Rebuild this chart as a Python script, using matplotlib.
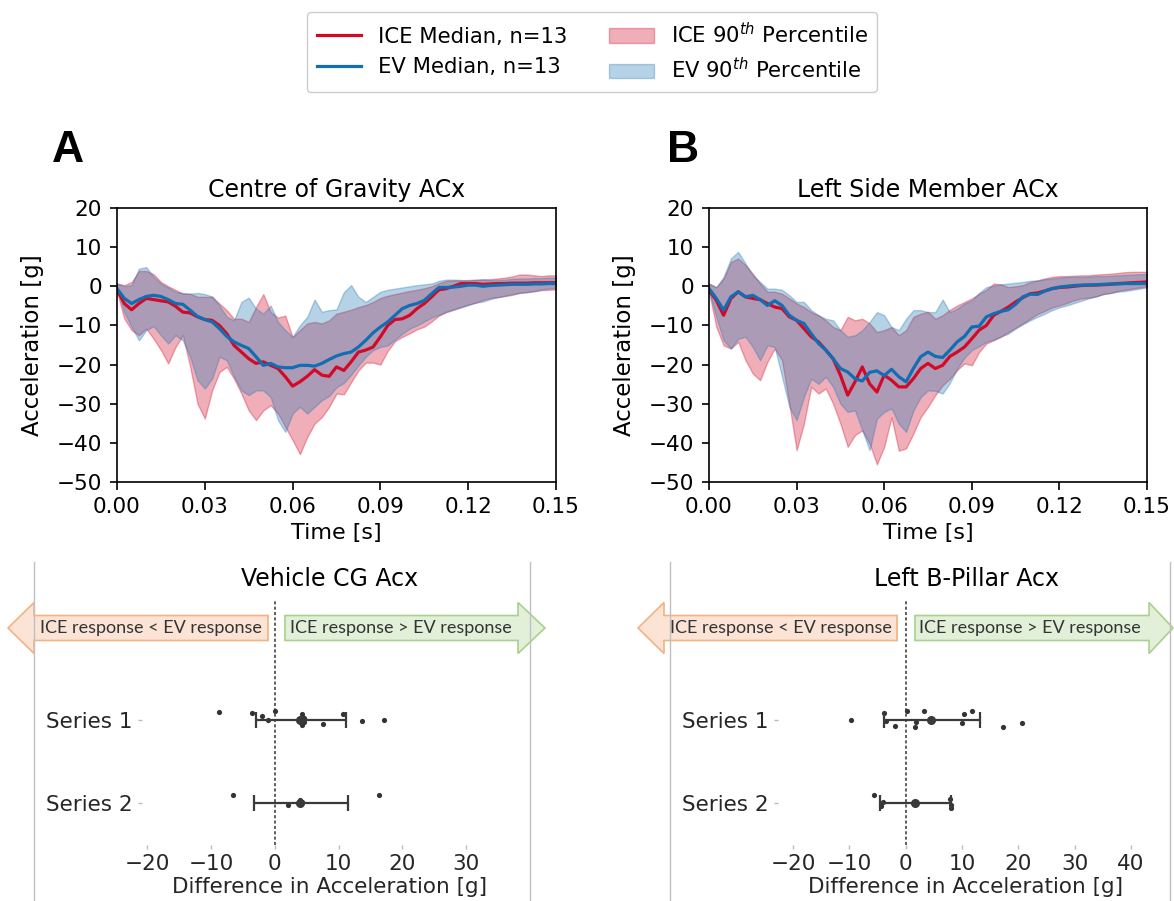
import numpy as np
import matplotlib
matplotlib.use("Agg")
import matplotlib.pyplot as plt
from matplotlib.lines import Line2D
from matplotlib.patches import Patch, Polygon
from matplotlib.ticker import FormatStrFormatter

# --- tamanho da figura em pixels ---
W, H = 1174, 901

# --- DADOS ---
tempo = np.linspace(0, 0.15, 61)

# Centre of Gravity ACx
cg_ice_med = [-0.9, -4.4, -6.0, -4.4, -3.1, -3.4, -3.7, -4.0, -5.1, -6.6, -6.8, -7.8, -8.5, -8.7, -10.0, -12.1,
              -15.1, -16.8, -18.5, -19.7, -19.3, -20.2, -21.0, -23.1, -25.5, -24.4, -23.0, -21.3, -22.7, -23.0, -20.6,
              -21.5, -19.3, -16.8, -16.3, -15.5, -12.9, -10.0, -8.5, -8.3, -7.4, -5.7, -4.4, -2.7, -0.9, -0.6,
              0.0, 0.7, 0.7, 0.7, 0.5, 0.6, 0.7, 0.7, 0.8, 0.8, 0.8, 0.9, 0.9, 0.9, 0.9]
cg_ev_med = [-0.6, -3.1, -4.4, -3.4, -2.6, -2.3, -2.6, -3.4, -4.4, -4.6, -6.1, -7.7, -8.5, -9.1, -10.8, -12.8,
             -14.2, -15.1, -15.9, -18.0, -20.2, -19.7, -20.6, -20.8, -20.8, -20.2, -20.2, -20.4, -19.7, -18.7, -17.8,
             -17.2, -16.8, -15.5, -13.8, -11.9, -10.4, -9.1, -7.4, -5.7, -4.9, -4.4, -3.6, -1.9, -0.3, -0.3,
             -0.2, 0.0, 0.3, 0.3, 0.0, 0.2, 0.3, 0.4, 0.5, 0.5, 0.5, 0.6, 0.6, 0.7, 0.7]
cg_ice_hi = [0.7, 0.3, 1.1, 3.9, 3.9, 3.1, 1.1, 0.0, -0.9, -1.9, -1.9, -2.7, -2.7, -2.7, -4.4, -6.1,
             -8.3, -8.3, -9.1, -5.3, -2.0, -6.6, -8.0, -7.5, -13.0, -11.2, -9.5, -9.1, -9.5, -8.7, -7.0,
             -6.5, -6.0, -5.3, -4.8, -4.0, -3.0, -2.4, -2.0, -1.6, -1.2, -0.9, -0.5, 0.0, 0.8, 1.4,
             1.5, 1.5, 1.6, 1.7, 1.8, 1.8, 2.0, 2.2, 2.5, 3.0, 3.0, 2.8, 2.6, 2.8, 2.8]
cg_ice_lo = [-1.4, -8.3, -11.2, -12.5, -10.8, -13.4, -16.3, -19.7, -15.5, -12.5, -20.6, -30.0, -33.8, -26.6, -21.9, -20.6,
             -23.6, -27.4, -31.7, -34.2, -31.7, -30.4, -32.5, -35.9, -39.3, -42.9, -38.5, -35.1, -33.4, -30.8, -27.4,
             -27.6, -24.5, -21.5, -19.5, -19.5, -20.0, -16.5, -14.0, -12.9, -12.0, -11.0, -10.3, -9.0, -7.5, -6.6,
             -6.0, -5.4, -4.7, -4.2, -3.5, -3.0, -2.8, -2.5, -2.2, -1.7, -1.5, -1.3, -1.0, -0.9, -0.8]
cg_ev_hi = [0.7, 0.0, 0.3, 4.5, 4.9, 2.4, 0.7, -0.3, -1.4, -1.7, -1.9, -1.7, -2.0, -2.6, -4.9, -7.8,
            -8.7, -4.0, -2.9, -5.7, -7.0, -4.9, -9.1, -11.2, -12.9, -10.0, -7.8, -3.4, -6.5, -6.1, -5.9,
            -1.5, 0.3, -2.7, -4.0, -2.7, -1.4, -0.9, -0.6, -0.3, 0.0, 0.3, 0.5, 0.7, 1.4, 1.7,
            1.7, 1.6, 1.5, 1.6, 1.7, 1.6, 1.6, 1.7, 1.9, 2.0, 2.0, 2.1, 2.1, 2.2, 2.2]
cg_ev_lo = [-0.6, -6.6, -10.4, -13.8, -11.2, -10.2, -12.5, -14.6, -12.5, -13.8, -18.0, -24.0, -26.1, -23.6, -18.0, -18.9,
            -23.1, -26.6, -27.8, -26.6, -26.6, -28.3, -34.2, -37.2, -32.5, -30.8, -32.5, -30.8, -29.1, -28.0, -25.8,
            -24.7, -22.6, -20.2, -18.0, -16.3, -15.5, -15.1, -13.6, -12.1, -10.8, -10.0, -9.0, -8.0, -7.3, -6.5,
            -5.9, -5.3, -4.8, -4.2, -3.9, -3.3, -2.8, -2.4, -2.0, -1.7, -1.5, -1.2, -0.8, -0.6, -0.4]

# Left Side Member ACx
lsm_ice_med = [-0.9, -3.6, -7.4, -3.1, -1.4, -2.7, -3.1, -3.4, -4.4, -5.3, -5.7, -7.8, -8.7, -10.8, -12.9, -14.2,
               -16.3, -18.5, -22.7, -27.8, -24.4, -20.6, -24.9, -27.0, -22.7, -24.0, -25.7, -25.7, -23.6, -21.0, -19.7,
               -21.0, -20.2, -17.9, -16.8, -15.5, -13.4, -11.2, -10.0, -7.4, -6.4, -5.3, -4.0, -2.9, -1.9, -1.7,
               -1.2, -0.6, -0.3, -0.2, 0.0, 0.2, 0.3, 0.3, 0.4, 0.5, 0.7, 0.8, 0.9, 1.0, 1.1]
lsm_ev_med = [-0.6, -3.1, -6.1, -2.7, -1.4, -2.7, -2.3, -3.4, -4.9, -3.7, -4.9, -7.4, -8.7, -9.5, -12.1, -14.6,
              -16.3, -18.5, -21.0, -21.9, -23.6, -24.2, -22.0, -21.6, -22.8, -21.2, -23.1, -24.4, -21.0, -18.0, -16.8,
              -17.9, -18.2, -16.3, -14.2, -12.8, -10.4, -10.2, -7.8, -7.0, -6.4, -6.0, -4.6, -2.7, -2.0, -2.1,
              -1.2, -0.6, -0.2, 0.0, 0.2, 0.3, 0.3, 0.4, 0.5, 0.6, 0.6, 0.7, 0.7, 0.7, 0.7]
lsm_ice_hi = [0.7, -0.2, 2.0, 6.2, 7.1, 5.4, 3.2, 0.7, -1.4, -1.4, -1.9, -3.1, -4.4, -5.3, -6.6, -7.4,
              -8.7, -10.4, -11.2, -7.8, -8.7, -8.3, -9.5, -11.7, -11.2, -10.4, -12.5, -11.2, -7.8, -7.0, -6.5,
              -8.3, -7.4, -6.0, -4.9, -4.0, -3.1, -1.9, -0.9, 0.7, 0.5, -0.2, 0.0, 0.3, 1.1, 1.5,
              2.0, 2.4, 2.6, 2.6, 2.7, 2.8, 2.8, 3.0, 3.1, 3.2, 3.4, 3.6, 3.7, 3.7, 3.7]
lsm_ice_lo = [-1.4, -10.4, -15.1, -15.9, -14.2, -18.9, -22.3, -24.0, -19.3, -15.9, -18.9, -30.0, -41.9, -35.1, -25.7, -27.4,
              -26.1, -30.0, -35.1, -41.0, -38.0, -36.8, -40.2, -45.5, -41.0, -33.5, -42.0, -41.4, -37.6, -33.4, -30.8,
              -27.8, -25.3, -23.6, -21.4, -19.7, -20.2, -16.8, -14.6, -13.8, -12.9, -11.7, -10.6, -9.5, -8.3, -7.1,
              -6.3, -5.4, -4.9, -4.3, -3.6, -3.1, -2.9, -2.6, -2.0, -1.7, -1.2, -0.9, -0.6, -0.3, 0.0]
lsm_ev_hi = [0.7, -0.3, 2.4, 7.1, 8.8, 5.8, 2.8, 1.1, -0.6, -0.6, -0.9, -2.3, -4.0, -4.0, -6.1, -7.4,
             -8.3, -8.7, -11.2, -12.9, -12.5, -11.2, -9.1, -6.6, -7.4, -10.4, -11.2, -8.3, -6.1, -6.1, -6.6,
             -6.6, -3.4, -6.6, -5.7, -4.4, -3.6, -1.7, -0.2, 0.2, 0.5, 0.7, 0.9, 1.1, 1.4, 1.5,
             1.8, 2.0, 2.2, 2.4, 2.4, 2.4, 2.5, 2.6, 2.6, 2.7, 2.8, 2.9, 3.0, 3.1, 3.1]
lsm_ev_lo = [-1.0, -7.8, -13.8, -15.9, -13.4, -12.9, -15.5, -18.9, -15.1, -15.5, -23.1, -30.8, -34.2, -28.3, -23.6, -24.9,
             -23.1, -25.7, -30.0, -32.1, -31.7, -36.8, -41.9, -33.8, -32.1, -31.2, -35.1, -37.2, -31.7, -28.3, -26.6,
             -26.7, -27.4, -24.7, -21.0, -18.2, -16.3, -15.3, -14.2, -13.6, -12.8, -12.1, -10.8, -9.7, -8.7, -7.8,
             -7.0, -6.1, -5.4, -4.9, -4.3, -3.7, -3.1, -2.6, -2.0, -1.7, -1.4, -1.2, -0.9, -0.6, -0.3]

# Diferencas (ICE - EV) por serie
categorias = ["Series 1", "Series 2"]

cg_s1 = [-8.8, -3.6, -2.0, -1.1, 0.0, 4.2, 4.3, 4.5, 4.6, 7.5, 10.7, 13.6, 17.1]
cg_s1_jitter = [-0.095, -0.08, -0.04, 0.0, -0.1, -0.065, 0.065, -0.02, 0.03, 0.045, -0.07, 0.02, 0.0]
cg_s2 = [-6.6, 2.0, 3.9, 4.1, 4.3, 16.4]
cg_s2_jitter = [-0.095, 0.02, -0.035, 0.01, -0.01, -0.095]
cg_ic = [(-2.9, 11.1), (-3.2, 11.5)]

bp_s1 = [-9.8, -3.8, -3.5, -1.9, 0.3, 1.6, 1.8, 3.2, 10.0, 10.3, 11.7, 17.3, 20.6]
bp_s1_jitter = [0.0, -0.085, 0.01, 0.075, -0.1, 0.085, 0.025, -0.105, 0.035, -0.065, -0.105, 0.085, 0.035]
bp_s2 = [-5.7, -4.4, -4.0, 1.5, 7.8, 8.0, 8.0]
bp_s2_jitter = [-0.1, 0.035, -0.02, 0.0, -0.05, 0.015, 0.055]
bp_ic = [(-3.8, 13.1), (-4.6, 8.0)]

# --- cores ---
VERMELHO = "#d20a28"
AZUL = "#136db3"
AZUL_CLARO = "#1f77b4"
CINZA_PONTO = "#333333"


def px(x, y):
    """Converte pixels (origem no topo) para fracao da figura."""
    return x / W, 1 - y / H


def eixo_px(fig, x0, y0, x1, y1):
    return fig.add_axes([x0 / W, 1 - y1 / H, (x1 - x0) / W, (y1 - y0) / H])


def painel_tempo(ax, titulo, ice_med, ev_med, ice_lo, ice_hi, ev_lo, ev_hi):
    ax.fill_between(tempo, ice_lo, ice_hi, color=VERMELHO, alpha=0.33, lw=1)
    ax.fill_between(tempo, ev_lo, ev_hi, color=AZUL_CLARO, alpha=0.33, lw=1)
    ax.plot(tempo, ice_med, color=VERMELHO, lw=2.3)
    ax.plot(tempo, ev_med, color=AZUL, lw=2.3)
    ax.set_xlim(0, 0.15)
    ax.set_ylim(-50, 20)
    ax.set_xticks([0, 0.03, 0.06, 0.09, 0.12, 0.15])
    ax.xaxis.set_major_formatter(FormatStrFormatter("%.2f"))
    ax.set_yticks(range(-50, 21, 10))
    for s in ax.spines.values():
        s.set_linewidth(1.2)
    ax.tick_params(labelsize=15.5, length=5.4, width=1.2, pad=5.4)
    ax.set_title(titulo, fontsize=17, pad=8)
    ax.set_xlabel("Time [s]", fontsize=16, labelpad=4)
    ax.set_ylabel("Acceleration [g]", fontsize=16.5, labelpad=9)


def painel_diferenca(ax, titulo, series, jitters, ics, xlim, xticks):
    for i, (vals, jit, (lo, hi)) in enumerate(zip(series, jitters, ics)):
        ax.scatter(vals, i + np.array(jit), s=14, color=CINZA_PONTO, zorder=3, linewidths=0)
        media = np.mean(vals)
        ax.errorbar(media, i, xerr=[[media - lo], [hi - media]], fmt="o", ms=5.5, color="#3a3a3a",
                    capsize=6, elinewidth=1.6, capthick=1.6, zorder=4)
    ax.set_ylim(1.5, -0.5)
    ax.set_yticks([0, 1])
    ax.set_yticklabels(categorias)
    ax.set_xlim(*xlim)
    ax.set_xticks(xticks)
    ax.axvline(0, ymin=0, ymax=1.47, ls=(0, (2, 1.5)), color="#333333", lw=1.1, clip_on=False, zorder=1)
    for s in ax.spines.values():
        s.set_visible(False)
    ax.tick_params(colors="#bbbbbb", labelcolor="#262626", length=3, width=1, labelsize=15.5)
    ax.set_xlabel("Difference in Acceleration [g]", fontsize=15.5, color="#262626", labelpad=2)
    ax.text(0.5, 1 + 99 / 167, titulo, transform=ax.transAxes, ha="center", va="center", fontsize=17)


def seta(fig, x_cauda, x_base, x_ponta, face, borda, yc=628, mc=12.5, mh=25.5):
    pts = [(x_cauda, yc - mc), (x_base, yc - mc), (x_base, yc - mh), (x_ponta, yc),
           (x_base, yc + mh), (x_base, yc + mc), (x_cauda, yc + mc)]
    pts = [px(x, y) for x, y in pts]
    fig.add_artist(Polygon(pts, closed=True, facecolor=face, edgecolor=borda, lw=1.2,
                           transform=fig.transFigure))


def texto_seta(fig, x, texto):
    fx, fy = px(x, 628)
    fig.text(fx, fy, texto, ha="left", va="center", fontsize=13, family="Lato", color="#333333")


def linha_vertical(fig, x, y0=562, y1=901):
    (fx, fy0), (_, fy1) = px(x, y0), px(x, y1)
    fig.add_artist(Line2D([fx, fx], [fy0, fy1], transform=fig.transFigure, color="#c0c0c0", lw=1))


fig = plt.figure(figsize=(W / 100, H / 100), dpi=100)

# --- graficos de cima ---
ax_a = eixo_px(fig, 117, 208, 556, 482)
painel_tempo(ax_a, "Centre of Gravity ACx", cg_ice_med, cg_ev_med, cg_ice_lo, cg_ice_hi, cg_ev_lo, cg_ev_hi)
ax_b = eixo_px(fig, 709, 208, 1147, 482)
painel_tempo(ax_b, "Left Side Member ACx", lsm_ice_med, lsm_ev_med, lsm_ice_lo, lsm_ice_hi, lsm_ev_lo, lsm_ev_hi)

for letra, x in [("A", 68), ("B", 683)]:
    fx, fy = px(x, 150)
    fig.text(fx, fy, letra, fontsize=32, fontweight="bold", family="Liberation Sans", ha="center", va="center")

# --- legenda ---
handles = [Line2D([], [], color=VERMELHO, lw=2.3), Line2D([], [], color=AZUL, lw=2.3),
           Patch(facecolor=VERMELHO, edgecolor=VERMELHO, alpha=0.33),
           Patch(facecolor=AZUL_CLARO, edgecolor=AZUL_CLARO, alpha=0.33)]
labels = ["ICE Median, n=13", "EV Median, n=13", "ICE 90$^{th}$ Percentile", "EV 90$^{th}$ Percentile"]
fig.legend(handles, labels, ncol=2, loc="center", bbox_to_anchor=px(592, 52), fontsize=15.2,
           columnspacing=2.0, handlelength=2.1, handletextpad=0.8, labelspacing=0.5, borderpad=0.45,
           framealpha=1, edgecolor="#cccccc")

# --- graficos de baixo ---
for x in [34, 530, 670, 1170]:
    linha_vertical(fig, x)

seta(fig, 268, 34, 8, "#fbe4d5", "#f4b183")
seta(fig, 285, 518, 545, "#e2f0d9", "#a9d18e")
texto_seta(fig, 40, "ICE response < EV response")
texto_seta(fig, 290, "ICE response > EV response")

seta(fig, 897, 664, 638, "#fbe4d5", "#f4b183")
seta(fig, 915, 1149, 1173, "#e2f0d9", "#a9d18e")
texto_seta(fig, 670, "ICE response < EV response")
texto_seta(fig, 919, "ICE response > EV response")

ax_c = eixo_px(fig, 142, 678, 518, 845)
painel_diferenca(ax_c, "Vehicle CG Acx", [cg_s1, cg_s2], [cg_s1_jitter, cg_s2_jitter], cg_ic,
                 (-20.8, 38.1), [-20, -10, 0, 10, 20, 30])
ax_d = eixo_px(fig, 778, 678, 1154, 845)
painel_diferenca(ax_d, "Left B-Pillar Acx", [bp_s1, bp_s2], [bp_s1_jitter, bp_s2_jitter], bp_ic,
                 (-22.7, 44.1), [-20, -10, 0, 10, 20, 30, 40])

fig.savefig("out.png", dpi=100)
